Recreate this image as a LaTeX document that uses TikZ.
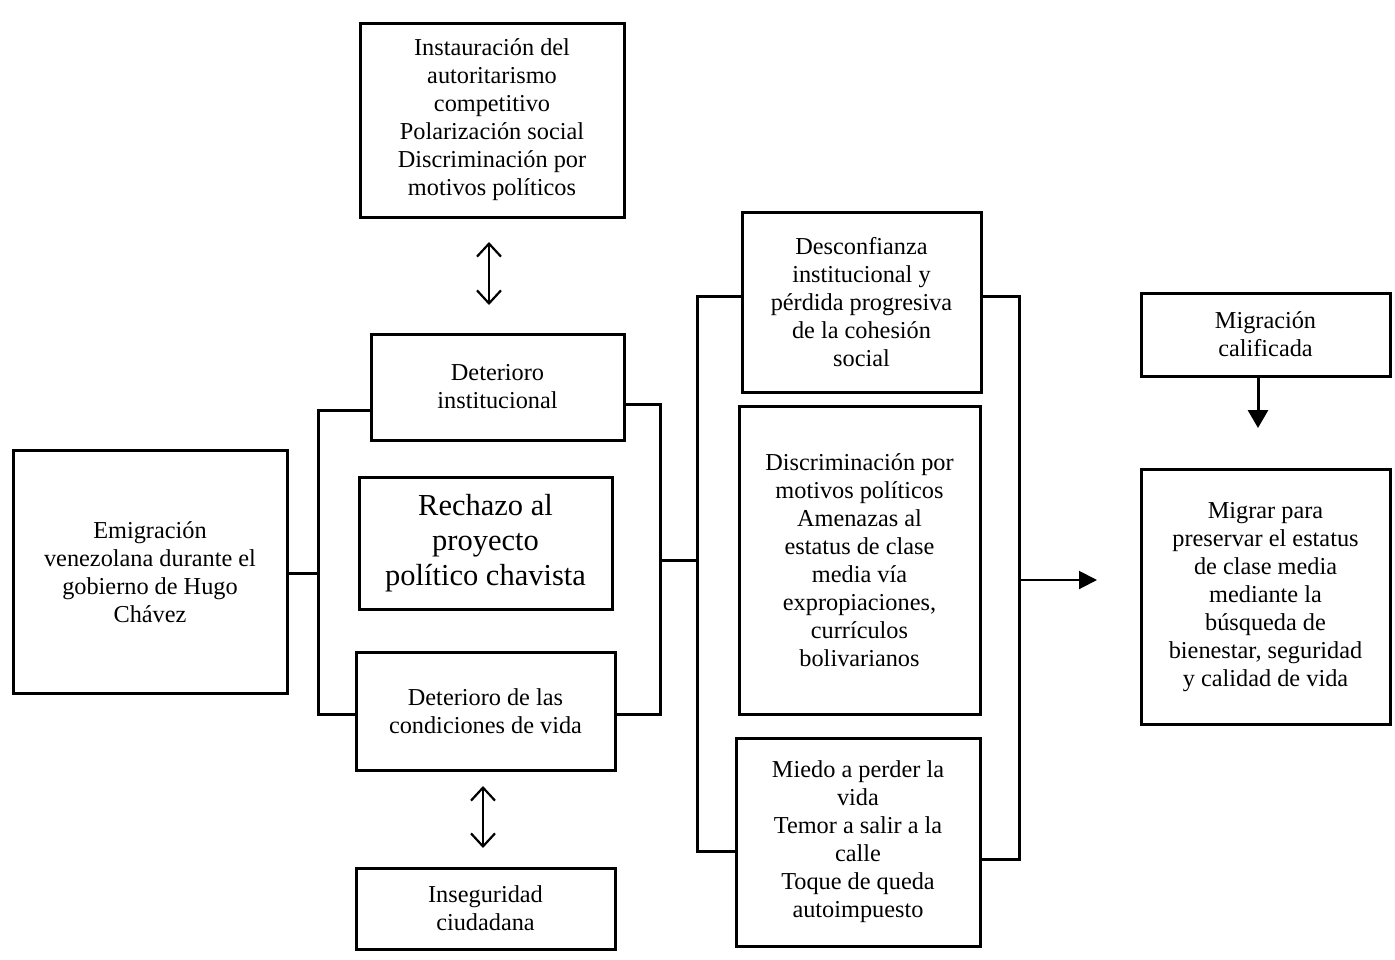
\documentclass[tikz,border=0pt]{standalone}
\usepackage{fontspec}
\setmainfont{Liberation Serif}
\usetikzlibrary{arrows.meta}
\begin{document}
\begin{tikzpicture}[x=1pt,y=-1pt,
  box/.style={draw,line width=3pt,align=center,inner sep=0pt,
    font=\fontsize{24.3}{28}\selectfont},
  bigbox/.style={box,font=\fontsize{30.5}{35}\selectfont},
  conn/.style={line width=3pt},
  dbl/.style={line width=2.2pt,{Straight Barb[length=13pt,width=24pt]}-{Straight Barb[length=13pt,width=24pt]}},
  outarrow/.style={line width=2pt,-{Triangle[length=18pt,width=18pt]}},
  downarrow/.style={line width=3pt,-{Triangle[length=18pt,width=20pt]}}]
\useasboundingbox (0,0) rectangle (1395,959);
\fill[white] (0,0) rectangle (1395,959);

\node[box,minimum width=264pt,minimum height=194pt] (T) at (492,120)
  {Instauración del\\autoritarismo\\competitivo\\Polarización social\\Discriminación por\\motivos políticos};
\node[box,minimum width=253pt,minimum height=106pt] (DI) at (497.5,387)
  {Deterioro\\institucional};
\node[bigbox,minimum width=253pt,minimum height=132pt] (R) at (485.5,543)
  {Rechazo al\\proyecto\\político chavista};
\node[box,minimum width=259pt,minimum height=118pt] (DC) at (485.5,711)
  {Deterioro de las\\condiciones de vida};
\node[box,minimum width=259pt,minimum height=81pt] (IS) at (485.5,908.5)
  {Inseguridad\\ciudadana};
\node[box,minimum width=274pt,minimum height=243pt] (E) at (150,572)
  {Emigración\\venezolana durante el\\gobierno de Hugo\\Chávez};
\node[box,minimum width=239pt,minimum height=180pt] (D1) at (861.5,302)
  {Desconfianza\\institucional y\\pérdida progresiva\\de la cohesión\\social};
\node[box,minimum width=241pt,minimum height=308pt] (D2) at (859.5,560)
  {Discriminación por\\motivos políticos\\Amenazas al\\estatus de clase\\media vía\\expropiaciones,\\currículos\\bolivarianos};
\node[box,minimum width=244pt,minimum height=208pt] (D3) at (858,842)
  {Miedo a perder la\\vida\\Temor a salir a la\\calle\\Toque de queda\\autoimpuesto};
\node[box,minimum width=249pt,minimum height=83pt] (MC) at (1265.5,334.5)
  {Migración\\calificada};
\node[box,minimum width=249pt,minimum height=255pt] (MP) at (1265.5,597)
  {Migrar para\\preservar el estatus\\de clase media\\mediante la\\búsqueda de\\bienestar, seguridad\\y calidad de vida};

\coordinate (jL)   at (318,573);
\coordinate (jLt)  at (318,410);
\coordinate (jLb)  at (318,714);
\coordinate (jR1t) at (660,404);
\coordinate (jR1b) at (660,714);
\coordinate (jR1m) at (660,560);
\coordinate (jR2m) at (697,560);
\coordinate (jR2t) at (697,296);
\coordinate (jR2b) at (697,851);
\coordinate (jR3t) at (1019,296);
\coordinate (jR3b) at (1019,859);
\coordinate (jR3m) at (1019,580);
\coordinate (aEnd) at (1097,580);
\coordinate (aMC)  at (1258,428);
\coordinate (dA1)  at (489,242);
\coordinate (dA2)  at (489,305);
\coordinate (dB1)  at (483,786);
\coordinate (dB2)  at (483,848);

\draw[conn] (E.east |- jL) -- (jL);
\draw[conn] (DI.west |- jLt) -- (jLt) -- (jLb) -- (DC.west |- jLb);
\draw[conn] (DI.east |- jR1t) -- (jR1t) -- (jR1b) -- (DC.east |- jR1b);
\draw[conn] (jR1m) -- (jR2m);
\draw[conn] (D1.west |- jR2t) -- (jR2t) -- (jR2b) -- (D3.west |- jR2b);
\draw[conn] (D1.east |- jR3t) -- (jR3t) -- (jR3b) -- (D3.east |- jR3b);
\draw[outarrow] (jR3m) -- (aEnd);
\draw[downarrow] (MC.south -| aMC) -- (aMC);
\draw[dbl] (dA1) -- (dA2);
\draw[dbl] (dB1) -- (dB2);
\end{tikzpicture}
\end{document}
